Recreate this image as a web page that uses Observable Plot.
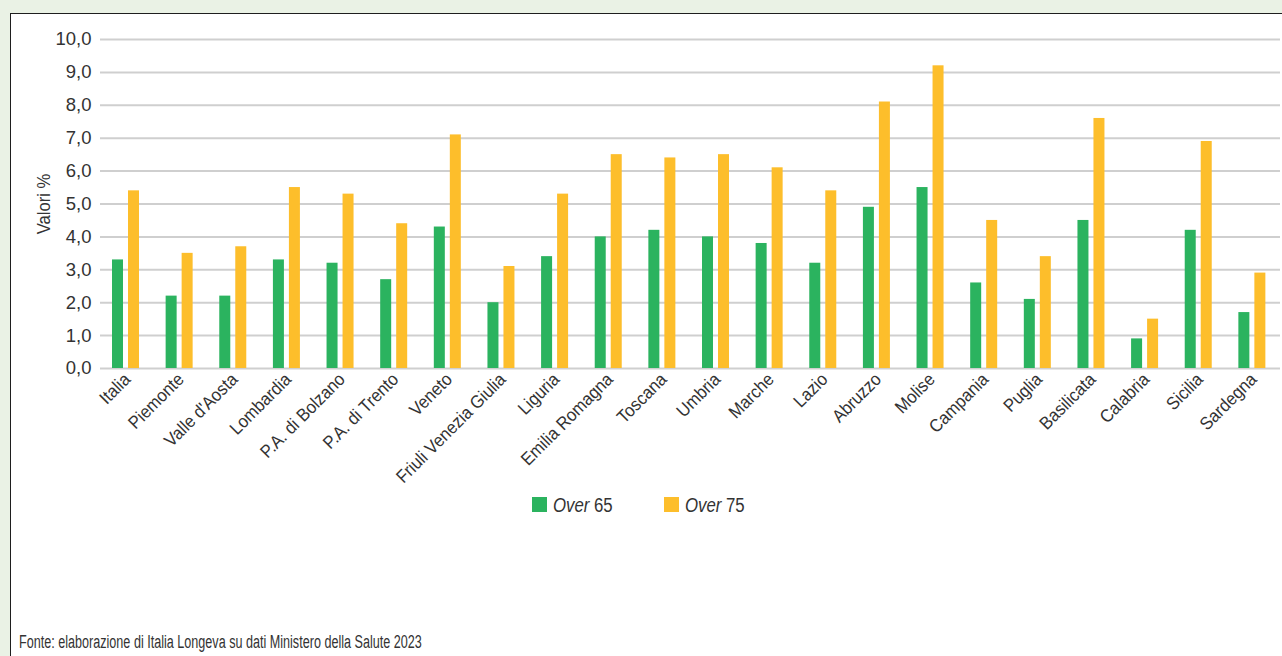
<!DOCTYPE html>
<html>
<head>
<meta charset="utf-8">
<script src="https://cdn.jsdelivr.net/npm/d3@7"></script>
<script src="https://cdn.jsdelivr.net/npm/@observablehq/plot@0.6"></script>
<style>
  html, body { margin: 0; padding: 0; }
  body { width: 1282px; height: 656px; overflow: hidden; position: relative; background: #eaf2e5;
         font-family: "Liberation Sans", Arial, sans-serif; color: #333; }
  #panel { position: absolute; left: 10px; top: 13px; width: 1272px; height: 643px; background: #fff;
           border-left: 1.5px solid #1e1e1e; border-top: 1.5px solid #1e1e1e; box-sizing: border-box; }
  #chart { position: absolute; left: 0; top: 0; }
  #legend { position: absolute; left: 0; top: 494px; width: 1282px; height: 22px; }
  .item { position: absolute; top: 0; font-size: 19.5px; line-height: 22px; white-space: nowrap; color: #333;
          transform: scaleX(0.86); transform-origin: 0 50%; }
  .sw { position: absolute; top: 3px; width: 15px; height: 15px; }
  #caption { position: absolute; left: 19px; top: 632px; font-size: 18px; line-height: 20px; color: #333;
             white-space: nowrap; transform: scaleX(0.70); transform-origin: 0 50%; }
</style>
</head>
<body>
<div id="panel"></div>
<div id="chart"></div>
<div id="legend"></div>
<div id="caption"></div>
<script>
// ---- data ----
const regions = ["Italia","Piemonte","Valle d'Aosta","Lombardia","P.A. di Bolzano","P.A. di Trento","Veneto",
  "Friuli Venezia Giulia","Liguria","Emilia Romagna","Toscana","Umbria","Marche","Lazio","Abruzzo","Molise",
  "Campania","Puglia","Basilicata","Calabria","Sicilia","Sardegna"];
const over65 = [3.3,2.2,2.2,3.3,3.2,2.7,4.3,2.0,3.4,4.0,4.2,4.0,3.8,3.2,4.9,5.5,2.6,2.1,4.5,0.9,4.2,1.7];
const over75 = [5.4,3.5,3.7,5.5,5.3,4.4,7.1,3.1,5.3,6.5,6.4,6.5,6.1,5.4,8.1,9.2,4.5,3.4,7.6,1.5,6.9,2.9];
const seriesNames = ["Over 65", "Over 75"];
const seriesColors = ["#2bb35f", "#fdbe2b"];
const yTicks = [0,1,2,3,4,5,6,7,8,9,10];
const yLabel = "Valori %";
const caption = "Fonte: elaborazione di Italia Longeva su dati Ministero della Salute 2023";

// ---- layout ----
const W = 1282, H = 500, ML = 100, MR = 2, MT = 39, MB = 132;
const step = (W - ML - MR) / regions.length;
const barW = 11;
const FONT = "'Liberation Sans', Arial, sans-serif";

const rows65 = regions.map((r, i) => ({region: r, value: over65[i]}));
const rows75 = regions.map((r, i) => ({region: r, value: over75[i]}));
const fmt = d => d.toFixed(1).replace(".", ",");

const plot = Plot.plot({
  width: W, height: H,
  marginLeft: ML, marginRight: MR, marginTop: MT, marginBottom: MB,
  style: {background: "transparent", fontFamily: FONT, color: "#333", overflow: "visible"},
  x: {domain: regions, padding: 0, round: false},
  y: {domain: [0, 10]},
  marks: [
    Plot.gridY(yTicks, {stroke: "#cfcfcf", strokeOpacity: 1, strokeWidth: 2}),
    Plot.barY(rows65, {x: "region", y: "value", fill: seriesColors[0], insetLeft: 12, insetRight: step - 12 - barW}),
    Plot.barY(rows75, {x: "region", y: "value", fill: seriesColors[1], insetLeft: 28, insetRight: step - 28 - barW}),
    Plot.axisY(yTicks, {tickSize: 0, tickPadding: 9, tickFormat: fmt, fontSize: 18.5, label: null}),
    Plot.axisX({tickSize: 0, tickPadding: 8, tickRotate: -45, fontSize: 18, label: null}),
    Plot.text([yLabel], {frameAnchor: "left", textAnchor: "middle", dx: -56, rotate: -90, fontSize: 18.5, fill: "#333"})
  ]
});
document.getElementById("chart").appendChild(plot);

// condense the rotated category labels and the y label (narrow typeface look)
plot.querySelectorAll('g[aria-label="x-axis tick label"] text').forEach(t => {
  const tr = t.getAttribute("transform") || "";
  t.setAttribute("transform", tr + " scale(0.92,1)");
});
plot.querySelectorAll('g[aria-label="text"] text').forEach(t => {
  const tr = t.getAttribute("transform") || "";
  t.setAttribute("transform", tr + " scale(0.9,1)");
});

// ---- legend ----
const legend = document.getElementById("legend");
const legendX = [532, 664];
seriesNames.forEach((name, i) => {
  const sw = document.createElement("div");
  sw.className = "sw";
  sw.style.left = legendX[i] + "px";
  sw.style.background = seriesColors[i];
  legend.appendChild(sw);
  const t = document.createElement("div");
  t.className = "item";
  t.style.left = (legendX[i] + 21) + "px";
  const parts = name.split(" ");
  t.innerHTML = "<i>" + parts[0] + "</i> " + parts[1];
  legend.appendChild(t);
});
document.getElementById("caption").textContent = caption;
</script>
</body>
</html>
